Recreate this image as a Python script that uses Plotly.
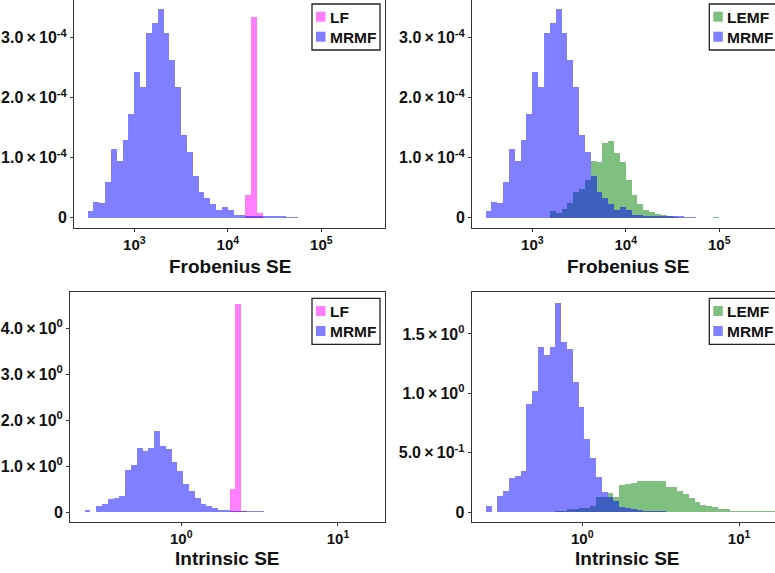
import numpy as np
import plotly.graph_objects as go

W, H = 775, 573

# ---------------- data ----------------
# Frobenius SE histograms (bins in log10 units)
frob_bin_start = 2.5
frob_bin_width = 0.0625
frob_mrmf_e4 = [0.117, 0.267, 0.239, 0.60, 1.15, 0.95, 1.30, 1.73, 2.42, 2.18,
                3.07, 3.25, 3.48, 3.08, 2.62, 2.17, 1.38, 1.10, 0.70, 0.42,
                0.32, 0.22, 0.13, 0.17, 0.12, 0.05, 0.05, 0.03, 0.02, 0.02,
                0.02, 0.02, 0.02, 0.02, 0.01, 0.01]
frob_lf_first_bin = 27
frob_lf_e4 = [0.38, 3.35, 0.07]
frob_lemf_first_bin = 11
frob_lemf_e4 = [0.117, 0.083, 0.15, 0.25, 0.42, 0.47, 0.63, 0.95, 0.92, 1.25,
                1.28, 1.08, 0.92, 0.62, 0.38, 0.22, 0.12, 0.10, 0.067, 0.05,
                0.03, 0.01, 0.0, 0.0, 0.0, 0.0, 0.0, 0.0, 0.008]

# Intrinsic SE histograms (bins in log10 units)
int_bin_start = -0.617
int_bin_width = 0.037
int_mrmf = [0.045, 0.0, 0.13, 0.175, 0.28, 0.30, 0.345, 0.905, 1.015, 1.39,
            1.32, 1.39, 1.755, 1.43, 1.37, 1.09, 0.885, 0.61, 0.455, 0.295,
            0.17, 0.125, 0.09, 0.04, 0.035, 0.02, 0.012, 0.008, 0.006, 0.006,
            0.005]
int_lf_first_bin = 25
int_lf = [0.50, 4.52, 0.01]
int_lemf_first_bin = 12
int_lemf = [0.01, 0.01, 0.02, 0.02, 0.034, 0.034, 0.045, 0.126, 0.126, 0.16,
            0.126, 0.228, 0.236, 0.244, 0.256, 0.26, 0.26, 0.256, 0.26, 0.21,
            0.21, 0.177, 0.152, 0.118, 0.084, 0.059, 0.05, 0.042, 0.025, 0.025,
            0.01, 0.01, 0.008, 0.008, 0.008, 0.004, 0.004, 0.003]

TS = "\u2009×\u2009"  # multiplication sign with thin spaces
frob_x_tickvals = [3, 4, 5]
frob_x_ticktext = ["10<sup>3</sup>", "10<sup>4</sup>", "10<sup>5</sup>"]
frob_y_tickvals = [0, 1e-4, 2e-4, 3e-4]
frob_y_ticktext = ["0", "1.0" + TS + "10<sup>-4</sup>", "2.0" + TS + "10<sup>-4</sup>",
                   "3.0" + TS + "10<sup>-4</sup>"]
int_x_tickvals = [0, 1]
int_x_ticktext = ["10<sup>0</sup>", "10<sup>1</sup>"]
int_lf_y_tickvals = [0, 1, 2, 3, 4]
int_lf_y_ticktext = ["0", "1.0" + TS + "10<sup>0</sup>", "2.0" + TS + "10<sup>0</sup>",
                     "3.0" + TS + "10<sup>0</sup>", "4.0" + TS + "10<sup>0</sup>"]
int_lemf_y_tickvals = [0, 0.5, 1.0, 1.5]
int_lemf_y_ticktext = ["0", "5.0" + TS + "10<sup>-1</sup>", "1.0" + TS + "10<sup>0</sup>",
                       "1.5" + TS + "10<sup>0</sup>"]

# ---------------- styling ----------------
C_LF = "rgba(255,0,255,0.5)"
C_MRMF = "rgba(0,0,255,0.5)"
C_LEMF = "rgba(0,128,0,0.5)"
FONT = "Liberation Sans"
LINE = "#333333"


def centers(start, width, first, n):
    return start + (first + np.arange(n) + 0.5) * width


def bar(start, width, first, vals, color, ax, scale=1.0):
    vals = np.asarray(vals, dtype=float) * scale
    return go.Bar(x=centers(start, width, first, len(vals)), y=vals, width=width,
                  marker=dict(color=color, line=dict(width=0)),
                  xaxis="x" + ax, yaxis="y" + ax, showlegend=False,
                  hoverinfo="x+y")


fig = go.Figure()
# top-left: LF vs MRMF (Frobenius)
fig.add_trace(bar(frob_bin_start, frob_bin_width, frob_lf_first_bin, frob_lf_e4, C_LF, "", 1e-4))
fig.add_trace(bar(frob_bin_start, frob_bin_width, 0, frob_mrmf_e4, C_MRMF, "", 1e-4))
# top-right: LEMF vs MRMF (Frobenius)
fig.add_trace(bar(frob_bin_start, frob_bin_width, frob_lemf_first_bin, frob_lemf_e4, C_LEMF, "2", 1e-4))
fig.add_trace(bar(frob_bin_start, frob_bin_width, 0, frob_mrmf_e4, C_MRMF, "2", 1e-4))
# bottom-left: LF vs MRMF (Intrinsic)
fig.add_trace(bar(int_bin_start, int_bin_width, int_lf_first_bin, int_lf, C_LF, "3"))
fig.add_trace(bar(int_bin_start, int_bin_width, 0, int_mrmf, C_MRMF, "3"))
# bottom-right: LEMF vs MRMF (Intrinsic)
fig.add_trace(bar(int_bin_start, int_bin_width, int_lemf_first_bin, int_lemf, C_LEMF, "4"))
fig.add_trace(bar(int_bin_start, int_bin_width, 0, int_mrmf, C_MRMF, "4"))


def px(x):
    return x / W


def py(y):
    return 1 - y / H


xtickfont = dict(family=FONT, size=15, color="#111111", weight="bold")
ytickfont = dict(family=FONT, size=16, color="#111111", weight="bold")
base = dict(showline=True, linecolor=LINE, linewidth=1, ticks="outside", ticklen=3,
            tickcolor=LINE, tickwidth=1, showgrid=False, zeroline=False,
            tickmode="array", fixedrange=True)
xb = dict(base, tickfont=xtickfont)
yb = dict(base, tickfont=ytickfont)

top_dom = [py(228.3), 1.0]
bot_dom = [py(522.3), py(292.3)]
frob_y_range = [-0.177e-4, 3.628e-4]

fig.update_layout(
    width=W, height=H, margin=dict(l=0, r=0, t=0, b=0, pad=0),
    paper_bgcolor="white", plot_bgcolor="white", barmode="overlay",
    bargap=0, bargroupgap=0,
    font=dict(family=FONT, color="#111111"),
    xaxis=dict(xb, domain=[px(74), px(385)], range=[2.355, 5.681], anchor="y",
               tickvals=frob_x_tickvals, ticktext=frob_x_ticktext),
    yaxis=dict(yb, domain=top_dom, range=frob_y_range, anchor="x", mirror=True,
               tickvals=frob_y_tickvals, ticktext=frob_y_ticktext),
    xaxis2=dict(xb, domain=[px(472), 1.0], range=[2.355, 5.596], anchor="y2",
                tickvals=frob_x_tickvals, ticktext=frob_x_ticktext),
    yaxis2=dict(yb, domain=top_dom, range=frob_y_range, anchor="x2",
                tickvals=frob_y_tickvals, ticktext=frob_y_ticktext),
    xaxis3=dict(xb, domain=[px(70), px(385)], range=[-0.71, 1.30], anchor="y3", mirror=True,
                tickvals=int_x_tickvals, ticktext=int_x_ticktext),
    yaxis3=dict(yb, domain=bot_dom, range=[-0.224, 4.776], anchor="x3", mirror=True,
                tickvals=int_lf_y_tickvals, ticktext=int_lf_y_ticktext),
    xaxis4=dict(xb, domain=[px(471.7), 1.0], range=[-0.705, 1.229], anchor="y4", mirror=True,
                tickvals=int_x_tickvals, ticktext=int_x_ticktext),
    yaxis4=dict(yb, domain=bot_dom, range=[-0.0868, 1.851], anchor="x4",
                tickvals=int_lemf_y_tickvals, ticktext=int_lemf_y_ticktext),
)

annotations = []
shapes = []

# axis titles
for text, cx, cy in [("Frobenius SE", 229.5, 266), ("Frobenius SE", 627.5, 266),
                     ("Intrinsic SE", 227.5, 558.5), ("Intrinsic SE", 627, 558.5)]:
    annotations.append(dict(text=text, x=px(cx), y=py(cy), xref="paper", yref="paper",
                            xanchor="center", yanchor="middle", showarrow=False,
                            font=dict(family=FONT, size=19, color="#111111", weight="bold")))


# legends
def legend(left, top, labels, colors):
    shapes.append(dict(type="rect", xref="paper", yref="paper",
                       x0=px(left), x1=px(left + 68), y0=py(top), y1=py(top + 46),
                       line=dict(color="#222222", width=1.3), fillcolor="white", layer="above"))
    for i, (lab, col) in enumerate(zip(labels, colors)):
        sy = top + 7.7 + 20 * i
        shapes.append(dict(type="rect", xref="paper", yref="paper",
                           x0=px(left + 4), x1=px(left + 13.5), y0=py(sy), y1=py(sy + 10),
                           line=dict(width=0), fillcolor=col, layer="above"))
        annotations.append(dict(text=lab, x=px(left + 15.5), y=py(sy + 5.3), xref="paper",
                                yref="paper", xanchor="left", yanchor="middle", showarrow=False,
                                font=dict(family=FONT, size=15.5, color="#111111", weight="bold")))


legend(312, 4, ["LF", "MRMF"], [C_LF, C_MRMF])
legend(709.3, 4, ["LEMF", "MRMF"], [C_LEMF, C_MRMF])
legend(312, 298.3, ["LF", "MRMF"], [C_LF, C_MRMF])
legend(709.3, 298.3, ["LEMF", "MRMF"], [C_LEMF, C_MRMF])

fig.update_layout(annotations=annotations, shapes=shapes)

fig.write_html("out.html", config={"displayModeBar": False},
               post_script="document.body.style.margin='0';document.body.style.overflow='hidden';")
